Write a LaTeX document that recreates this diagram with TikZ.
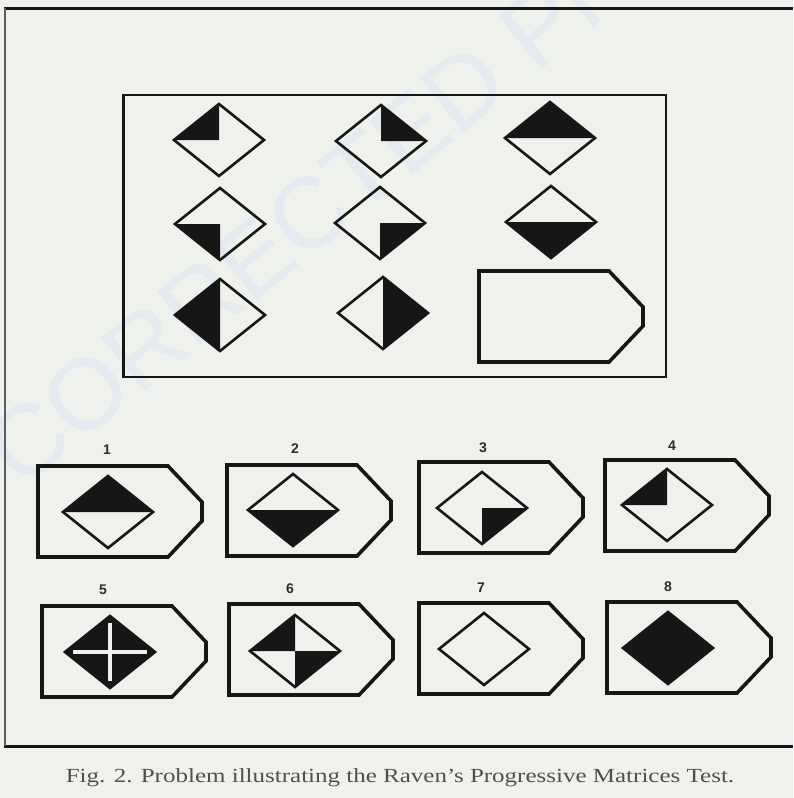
\documentclass[tikz,border=0pt]{standalone}
\usepackage{fontspec}
\setmainfont{Liberation Serif}
\newfontfamily\numfont{Liberation Sans}
\definecolor{bg}{RGB}{239,241,237}
\definecolor{ink}{RGB}{22,22,22}
\definecolor{wm}{RGB}{229,233,240}
\newcommand\qTL{\fill[blk] (0,-36)--(-45,0)--(0,0)--cycle;}
\newcommand\qTR{\fill[blk] (0,-36)--(45,0)--(0,0)--cycle;}
\newcommand\qBL{\fill[blk] (0,36)--(-45,0)--(0,0)--cycle;}
\newcommand\qBR{\fill[blk] (0,36)--(45,0)--(0,0)--cycle;}
\newcommand\hTop{\fill[blk] (-45,0)--(0,-36)--(45,0)--cycle;}
\newcommand\hBot{\fill[blk] (-45,0)--(0,36)--(45,0)--cycle;}
\newcommand\hLeft{\fill[blk] (0,-36)--(-45,0)--(0,36)--cycle;}
\newcommand\hRight{\fill[blk] (0,-36)--(45,0)--(0,36)--cycle;}
\newcommand\hAll{\fill[blk] (0,-36)--(45,0)--(0,36)--(-45,0)--cycle;}
\newcommand\hCross{\hAll\draw[bg,line width=3.2pt] (0,-29)--(0,29) (-37,0)--(37,0);}
\newcommand\hNone{}
\tikzset{
  diaedge/.style={draw=ink,line width=2.6pt,line join=miter},
  blk/.style={fill=ink},
  optbox/.style={draw=ink,line width=3.6pt,line join=miter},
  numlab/.style={font=\numfont\bfseries\fontsize{14}{14}\selectfont,text=ink!90,inner sep=0pt},
  pics/dia/.style={code={#1\draw[diaedge] (0,-36)--(45,0)--(0,36)--(-45,0)--cycle;}},
  pics/tag/.style={code={\draw[optbox] (0,0)--(130,0)--(164,36)--(164,55)--(130,91)--(0,91)--cycle;}}
}
\begin{document}
\begin{tikzpicture}[x=1pt,y=-1pt]
\useasboundingbox (0,0) rectangle (793,798);
\clip (0,0) rectangle (793,798);
\fill[bg] (0,0) rectangle (793,798);
% watermark
\node[anchor=west,rotate=39,text=wm,font=\numfont\fontsize{100}{100}\selectfont,inner sep=0pt] (wmark) at (0,464) {CORRECTED PROOF};
% page frame lines
\draw[ink,line width=3pt] (4,8) -- (793,8);
\draw[ink,line width=3pt] (4,746) -- (793,746);
\draw[ink!70,line width=1.5pt] (5,8) -- (5,746);
% matrix
\draw[ink,line width=2.2pt] (123.5,95) rectangle (666,377);
\pic (m11) at (219,140) {dia=\qTL};
\pic (m12) at (381,141) {dia=\qTR};
\pic (m13) at (550,138) {dia=\hTop};
\pic (m21) at (220,224) {dia=\qBL};
\pic (m22) at (380,223) {dia=\qBR};
\pic (m23) at (551,222) {dia=\hBot};
\pic (m31) at (220,315) {dia=\hLeft};
\pic (m32) at (383,313) {dia=\hRight};
\pic (m33) at (479,271) {tag};
% options
\pic (o1b) at (38,466) {tag};
\pic (o2b) at (227,465) {tag};
\pic (o3b) at (419,462) {tag};
\pic (o4b) at (605,460) {tag};
\pic (o5b) at (42,606) {tag};
\pic (o6b) at (229,604) {tag};
\pic (o7b) at (419,603) {tag};
\pic (o8b) at (607,602) {tag};
\pic (o1) at (108,512) {dia=\hTop};
\pic (o2) at (293,510) {dia=\hBot};
\pic (o3) at (482,508) {dia=\qBR};
\pic (o4) at (667,505) {dia=\qTL};
\pic (o5) at (110,652) {dia=\hCross};
\pic (o6) at (295,651) {dia={\qTL\qBR}};
\pic (o7) at (484,649) {dia=\hNone};
\pic (o8) at (668,648) {dia=\hAll};
\node[numlab] (n1) at (107,450) {1};
\node[numlab] (n2) at (295,449) {2};
\node[numlab] (n3) at (483,448) {3};
\node[numlab] (n4) at (672,446) {4};
\node[numlab] (n5) at (103,590) {5};
\node[numlab] (n6) at (290,589) {6};
\node[numlab] (n7) at (481,588) {7};
\node[numlab] (n8) at (668,587) {8};
% caption
\node[font=\fontsize{20}{20}\selectfont,text=ink!75,inner sep=0pt,xscale=1.25] (cap) at (400,778) {Fig. 2. Problem illustrating the Raven’s Progressive Matrices Test.};
\end{tikzpicture}
\end{document}
